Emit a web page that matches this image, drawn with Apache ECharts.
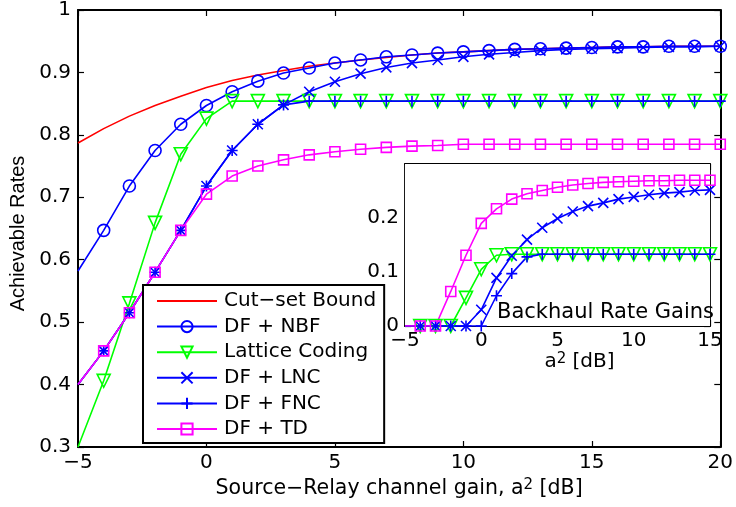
<!DOCTYPE html>
<html>
<head>
<meta charset="utf-8">
<script src="https://cdn.jsdelivr.net/npm/echarts@6/dist/echarts.min.js"></script>
<style>
html,body{margin:0;padding:0;background:#fff;}
#c{width:736px;height:507px;}
</style>
</head>
<body>
<div id="c"></div>
<script>
// ---------- data ----------
const xMain = [-5,-4,-3,-2,-1,0,1,2,3,4,5,6,7,8,9,10,11,12,13,14,15,16,17,18,19,20];
const cutSet = [0.787,0.810,0.830,0.847,0.862,0.876,0.887,0.896,0.903,0.910,0.915,0.920,0.924,0.928,0.931,0.933,0.935,0.937,0.938,0.939,0.940,0.941,0.941,0.942,0.942,0.942];
const dfNBF = [0.582,0.647,0.718,0.775,0.817,0.847,0.869,0.886,0.899,0.907,0.915,0.920,0.925,0.928,0.931,0.933,0.935,0.937,0.938,0.939,0.940,0.941,0.941,0.942,0.942,0.942];
const lattice = [0.300,0.406,0.530,0.659,0.769,0.826,0.854,0.854,0.854,0.854,0.854,0.854,0.854,0.854,0.854,0.854,0.854,0.854,0.854,0.854,0.854,0.854,0.854,0.854,0.854,0.854];
const dfLNC = [0.400,0.454,0.515,0.580,0.647,0.718,0.775,0.817,0.848,0.869,0.885,0.898,0.908,0.915,0.920,0.925,0.929,0.932,0.935,0.937,0.938,0.939,0.940,0.941,0.941,0.942];
const dfFNC = [0.400,0.454,0.515,0.580,0.647,0.718,0.775,0.817,0.848,0.854,0.854,0.854,0.854,0.854,0.854,0.854,0.854,0.854,0.854,0.854,0.854,0.854,0.854,0.854,0.854,0.854];
const dfTD = [0.400,0.454,0.515,0.580,0.647,0.705,0.734,0.750,0.760,0.768,0.773,0.777,0.780,0.782,0.783,0.785,0.785,0.785,0.785,0.785,0.785,0.785,0.785,0.785,0.785,0.785];

const xInset = [-5,-4,-3,-2,-1,0,1,2,3,4,5,6,7,8,9,10,11,12,13,14,15];
const gainLattice = [0,0,0,0,0.052,0.105,0.131,0.133,0.133,0.133,0.133,0.133,0.133,0.133,0.133,0.133,0.133,0.133,0.133,0.133,0.133];
const gainLNC = [0,0,0,0,0,0.030,0.089,0.130,0.160,0.182,0.199,0.212,0.222,0.228,0.235,0.239,0.243,0.246,0.248,0.251,0.252];
const gainFNC = [0,0,0,0,0,0,0.056,0.097,0.128,0.133,0.133,0.133,0.133,0.133,0.133,0.133,0.133,0.133,0.133,0.133,0.133];
const gainTD = [0,0,0,0.064,0.131,0.190,0.217,0.235,0.245,0.251,0.257,0.261,0.264,0.266,0.267,0.268,0.269,0.269,0.270,0.270,0.270];

const seriesNames = ['Cut\u2212set Bound','DF + NBF','Lattice Coding','DF + LNC','DF + FNC','DF + TD'];
const xTitle = 'Source\u2212Relay channel gain, a{sup|2} [dB]';
const yTitle = 'Achievable Rates';
const insetXTitle = 'a{sup|2} [dB]';
const insetText = 'Backhaul Rate Gains';

// ---------- styling ----------
const FONT = 'DejaVu Sans';
const RED='#ff0000', BLUE='#0000ff', GREEN='#00ff00', MAG='#ff00ff';
const SYM = {
  none: 'none',
  circle: 'circle',
  tri: 'path://M0,0 L10,0 L5,9 Z',
  cross: 'path://M0,0 L10,10 M10,0 L0,10',
  plus: 'path://M5,0 L5,10 M0,5 L10,5',
  square: 'rect'
};
const LW = 1.6;
const minusFmt = v => String(v).replace('-', '\u2212');

function pts(xs, ys){
  return xs.map((x,i) => i === 0 ? {value:[x, ys[i]], symbol:'none'} : [x, ys[i]]);
}
function mk(name, xs, ys, gi, color, sym, size){
  return {
    name: name, type: 'line', xAxisIndex: gi*2, yAxisIndex: gi*2,
    data: pts(xs, ys),
    symbol: SYM[sym], symbolSize: size, showSymbol: sym !== 'none',
    lineStyle: {color: color, width: LW},
    itemStyle: {color: 'rgba(255,255,255,0)', borderColor: color, borderWidth: LW},
    emphasis: {disabled: true},
    animation: false, z: 3
  };
}
function axisCommon(extra){
  return Object.assign({
    axisLine: {show: true, onZero: false, lineStyle: {color: '#000', width: 2}},
    axisTick: {show: true, inside: true, length: 6, lineStyle: {color: '#000', width: 1.2}},
    splitLine: {show: false},
    axisLabel: {color: '#000', fontFamily: FONT, fontSize: 20},
  }, extra);
}
const supRich = {sup: {fontFamily: FONT, fontSize: 15, verticalAlign: 'top', color: '#000', lineHeight: 14}};
const hidden = {color: 'rgba(0,0,0,0)', borderColor: 'rgba(0,0,0,0)', borderWidth: 0};

const chart = echarts.init(document.getElementById('c'), null, {renderer: 'canvas'});
const option = {
  animation: false,
  backgroundColor: '#fff',
  grid: [
    {left: 77, right: 15, top: 10, bottom: 60},
    {left: 405, right: 26, top: 164, height: 162, show: true, backgroundColor: '#fff', borderWidth: 0, z: 2}
  ],
  xAxis: [
    axisCommon({gridIndex: 0, type: 'value', min: -5, max: 20, interval: 5, position: 'bottom',
      axisLabel: {color: '#000', fontFamily: FONT, fontSize: 20, margin: 6, formatter: minusFmt},
      name: xTitle, nameLocation: 'middle', nameGap: 25,
      nameTextStyle: {color: '#000', fontFamily: FONT, fontSize: 20.5, verticalAlign: 'top', rich: supRich}}),
    axisCommon({gridIndex: 0, type: 'value', min: -5, max: 20, interval: 5, position: 'top', axisLabel: {show: false}}),
    axisCommon({gridIndex: 1, type: 'value', min: -5, max: 15, interval: 5, position: 'bottom',
      axisLine: {show: true, onZero: false, lineStyle: {color: '#000', width: 1.8}},
      axisLabel: {color: '#000', fontFamily: FONT, fontSize: 20, margin: 5, formatter: minusFmt},
      name: insetXTitle, nameLocation: 'middle', nameGap: 25,
      nameTextStyle: {color: '#000', fontFamily: FONT, fontSize: 20, verticalAlign: 'top', padding: [0, 0, 0, 44], rich: supRich}}),
    axisCommon({gridIndex: 1, type: 'value', min: -5, max: 15, interval: 5, position: 'top',
      axisLine: {show: true, onZero: false, lineStyle: {color: '#000', width: 1.8}}, axisLabel: {show: false}})
  ],
  yAxis: [
    axisCommon({gridIndex: 0, type: 'value', min: 0.3, max: 1, interval: 0.1, position: 'left',
      axisLabel: {color: '#000', fontFamily: FONT, fontSize: 20, margin: 7,
        formatter: v => Math.abs(v - 1) < 1e-9 ? '1' : v.toFixed(1)},
      name: yTitle, nameLocation: 'middle', nameGap: 50,
      nameTextStyle: {color: '#000', fontFamily: 'Liberation Sans', fontSize: 20, padding: [0, 10, 0, 0]}}),
    axisCommon({gridIndex: 0, type: 'value', min: 0.3, max: 1, interval: 0.1, position: 'right', axisLabel: {show: false}}),
    axisCommon({gridIndex: 1, type: 'value', min: 0, max: 0.3, interval: 0.1, position: 'left',
      axisLine: {show: true, onZero: false, lineStyle: {color: '#000', width: 1.8}},
      axisLabel: {color: '#000', fontFamily: FONT, fontSize: 20, margin: 6, showMaxLabel: false,
        formatter: v => v === 0 ? '0' : v.toFixed(1)}}),
    axisCommon({gridIndex: 1, type: 'value', min: 0, max: 0.3, interval: 0.1, position: 'right',
      axisLine: {show: true, onZero: false, lineStyle: {color: '#000', width: 1.8}}, axisLabel: {show: false}})
  ],
  legend: {
    show: true, orient: 'vertical', left: 143, top: 285,
    data: seriesNames.map((n, i) => i === 0 ? {name: n, itemStyle: hidden} : {name: n}),
    selectedMode: false,
    itemWidth: 60, itemHeight: 14, itemGap: 5.6,
    padding: [6, 8, 4, 13],
    backgroundColor: '#fff', borderColor: '#000', borderWidth: 2, borderRadius: 0,
    textStyle: {color: '#000', fontFamily: FONT, fontSize: 20, lineHeight: 20, padding: [0, 0, 0, 2]},
    z: 10
  },
  graphic: [{
    type: 'text', x: 497, y: 313, z: 100,
    style: {text: insetText, fill: '#000', font: '21px "DejaVu Sans"', verticalAlign: 'middle', align: 'left'}
  }],
  series: [
    mk(seriesNames[0], xMain, cutSet, 0, RED, 'none', 0),
    mk(seriesNames[1], xMain, dfNBF, 0, BLUE, 'circle', 12),
    mk(seriesNames[2], xMain, lattice, 0, GREEN, 'tri', 13),
    mk(seriesNames[3], xMain, dfLNC, 0, BLUE, 'cross', 10),
    mk(seriesNames[4], xMain, dfFNC, 0, BLUE, 'plus', 11),
    mk(seriesNames[5], xMain, dfTD, 0, MAG, 'square', 10),
    mk(seriesNames[2], xInset, gainLattice, 1, GREEN, 'tri', 13),
    mk(seriesNames[3], xInset, gainLNC, 1, BLUE, 'cross', 10),
    mk(seriesNames[4], xInset, gainFNC, 1, BLUE, 'plus', 11),
    mk(seriesNames[5], xInset, gainTD, 1, MAG, 'square', 10)
  ]
};
chart.setOption(option);
</script>
</body>
</html>
